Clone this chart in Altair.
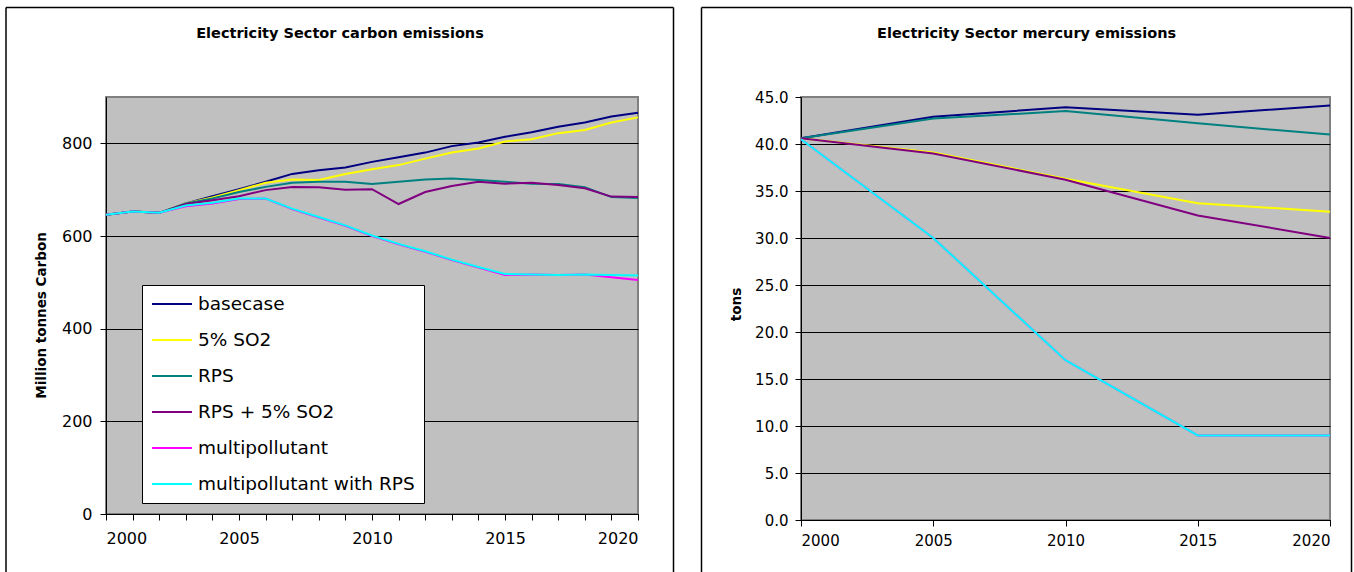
import altair as alt
import pandas as pd

# ---------------- data ----------------
SERIES = ["basecase", "5% SO2", "RPS", "RPS + 5% SO2", "multipollutant", "multipollutant with RPS"]
COLORS = ["#000080", "#FFFF00", "#008080", "#800080", "#FF00FF", "#00FFFF"]

YEARS = list(range(2000, 2021))
CARBON_BASECASE = [646, 653, 650, 670, 686, 701, 717, 734, 742, 748, 760, 770, 780, 794, 802, 814, 824, 836, 845, 858, 866]
CARBON_SO2 = [646, 653, 650, 670, 683, 699, 715, 722, 721, 734, 744, 753, 767, 780, 789, 804, 809, 822, 829, 845, 856]
CARBON_RPS = [646, 653, 650, 670, 681, 695, 706, 715, 717, 717, 712, 717, 722, 724, 721, 717, 713, 712, 705, 684, 682]
CARBON_RPS_SO2 = [646, 653, 650, 669, 677, 686, 699, 706, 705, 700, 701, 669, 695, 708, 717, 713, 715, 710, 703, 685, 684]
CARBON_MULTI = [646, 653, 650, 664, 670, 680, 681, 658, 640, 622, 600, 582, 566, 548, 532, 516, 517, 516, 517, 511, 505]
CARBON_MULTI_RPS = [646, 653, 650, 666, 672, 681, 681, 659, 641, 623, 601, 583, 567, 549, 533, 518, 517, 516, 517, 516, 515]

HG_YEARS = [2000, 2005, 2010, 2015, 2020]
HG_BASECASE = [40.6, 42.9, 43.9, 43.1, 44.1]
HG_SO2 = [40.6, 39.1, 36.3, 33.7, 32.8]
HG_RPS = [40.6, 42.7, 43.5, 42.2, 41.0]
HG_RPS_SO2 = [40.6, 39.0, 36.2, 32.4, 30.0]
HG_MULTI = [40.5, 30.0, 17.0, 9.0, 9.0]
HG_MULTI_RPS = [40.5, 30.0, 17.0, 9.0, 9.0]

CARBON_TICKS = [0, 200, 400, 600, 800]
HG_TICKS = [0, 5, 10, 15, 20, 25, 30, 35, 40, 45]

TITLE_LEFT = "Electricity Sector carbon emissions"
TITLE_RIGHT = "Electricity Sector mercury emissions"
YTITLE_LEFT = "Million tonnes Carbon"
YTITLE_RIGHT = "tons"

FONT = "DejaVu Sans"


def long_df(years, series_values):
    rows = []
    for i, (name, vals) in enumerate(zip(SERIES, series_values)):
        for y, v in zip(years, vals):
            rows.append({"year": y, "value": v, "series": name, "ord": i})
    return pd.DataFrame(rows)


carbon_df = long_df(YEARS, [CARBON_BASECASE, CARBON_SO2, CARBON_RPS, CARBON_RPS_SO2, CARBON_MULTI, CARBON_MULTI_RPS])
hg_df = long_df(HG_YEARS, [HG_BASECASE, HG_SO2, HG_RPS, HG_RPS_SO2, HG_MULTI, HG_MULTI_RPS])


def frame_and_title(left, right, top, bottom, title, title_x, title_y):
    d = pd.DataFrame({"k": [0]})
    base = alt.Chart(d)
    v1 = base.mark_rule(color="black", strokeWidth=1.5).encode(
        x=alt.value(left), y=alt.value(top), y2=alt.value(bottom))
    v2 = base.mark_rule(color="black", strokeWidth=1.5).encode(
        x=alt.value(right), y=alt.value(top), y2=alt.value(bottom))
    h = base.mark_rule(color="black", strokeWidth=1.5).encode(
        x=alt.value(left), x2=alt.value(right), y=alt.value(top))
    t = base.mark_text(font=FONT, fontSize=14.5, fontWeight="bold", color="black",
                       align="center", baseline="middle").encode(
        x=alt.value(title_x), y=alt.value(title_y), text=alt.value(title))
    return [v1, v2, h, t]


# ---------------- left chart ----------------
left_lines = alt.Chart(carbon_df).mark_line(strokeWidth=2).encode(
    x=alt.X("year:Q", scale=alt.Scale(domain=[2000, 2020], nice=False),
            axis=alt.Axis(values=YEARS, format="d", title=None, grid=False,
                          labelExpr="datum.value % 5 == 0 ? datum.label : ''",
                          labelFontSize=16, labelPadding=10, tickSize=6)),
    y=alt.Y("value:Q", scale=alt.Scale(domain=[0, 900], nice=False),
            axis=alt.Axis(values=CARBON_TICKS, title=YTITLE_LEFT, labelFontSize=16,
                          labelPadding=8, tickSize=6, titleX=-65, titleY=218,
                          titleFontSize=13.5, titleBaseline="middle", titleAlign="center")),
    color=alt.Color("series:N", scale=alt.Scale(domain=SERIES, range=COLORS),
                    legend=alt.Legend(title=None, orient="none", legendX=36, legendY=188,
                                      symbolType="stroke", symbolSize=1600, symbolStrokeWidth=2,
                                      labelFont=FONT, labelFontSize=18.5, labelColor="black",
                                      labelOffset=5, padding=9, rowPadding=16, clipHeight=20,
                                      strokeColor="black", fillColor="white", labelLimit=400)),
    order=alt.Order("ord:Q"),
    detail="ord:N",
)

left = alt.layer(left_lines, *frame_and_title(-100, 567.5, -89.5, 475, TITLE_LEFT, 234, -63)).properties(
    width=532, height=417)

# ---------------- right chart ----------------
right_lines = alt.Chart(hg_df).mark_line(strokeWidth=2).encode(
    x=alt.X("year:Q", scale=alt.Scale(domain=[2000, 2020], nice=False),
            axis=alt.Axis(values=HG_YEARS, format="d", title=None, grid=False,
                          labelFontSize=15, labelPadding=7, tickSize=6)),
    y=alt.Y("value:Q", scale=alt.Scale(domain=[0, 45], nice=False),
            axis=alt.Axis(values=HG_TICKS, format=".1f", title=YTITLE_RIGHT, labelFontSize=15,
                          labelPadding=7, tickSize=6, titleX=-65, titleY=207,
                          titleFontSize=13.5, titleBaseline="middle", titleAlign="center",
                          gridColor={"condition": {"test": "datum.value == 45", "value": "#808080"},
                                     "value": "black"})),
    color=alt.Color("series:N", scale=alt.Scale(domain=SERIES, range=COLORS), legend=None),
    order=alt.Order("ord:Q"),
    detail="ord:N",
)

right = alt.layer(right_lines, *frame_and_title(-99.5, 550.5, -89.5, 475, TITLE_RIGHT, 225.6, -63)).properties(
    width=529, height=423)

chart = alt.hconcat(left, right, spacing=163, bounds="flush").resolve_scale(
    color="independent"
).properties(
    padding={"left": 4, "top": 5, "right": 0, "bottom": 0},
    background="white",
).configure_view(
    fill="#C0C0C0", stroke="#808080", strokeWidth=2
).configure_axis(
    labelFont=FONT, titleFont=FONT, labelColor="black", titleColor="black",
    domainColor="black", tickColor="black", gridColor="black", gridWidth=1,
    domainWidth=1, tickWidth=1, titleFontWeight="bold"
)

chart.save("out.html", embed_options={"renderer": "svg", "actions": False})
